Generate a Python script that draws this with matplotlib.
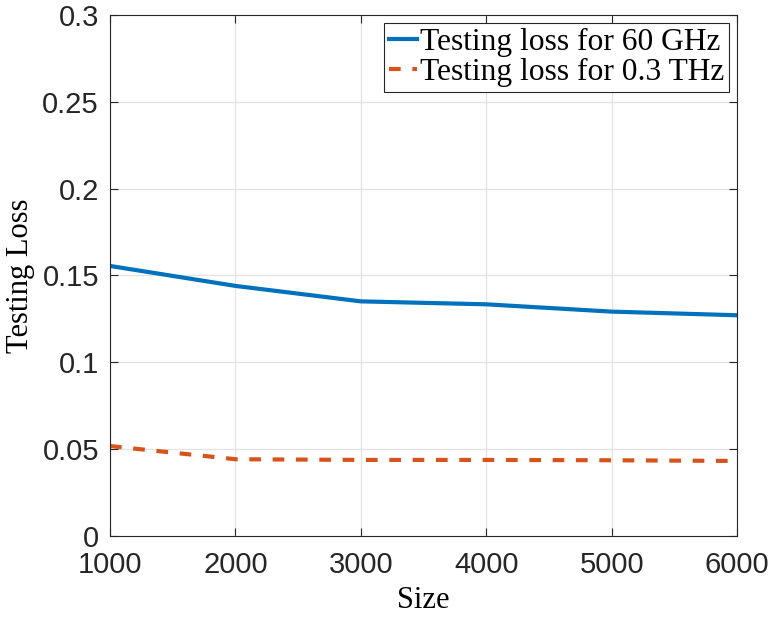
import matplotlib
matplotlib.use("Agg")
import matplotlib.pyplot as plt

sizes = [1000, 2000, 3000, 4000, 5000, 6000]
loss_60ghz = [0.1555, 0.144, 0.1351, 0.1334, 0.1292, 0.1271]
loss_03thz = [0.0518, 0.0442, 0.0438, 0.0438, 0.0436, 0.0432]
yticks = [0, 0.05, 0.1, 0.15, 0.2, 0.25, 0.3]
ytick_labels = ['0', '0.05', '0.1', '0.15', '0.2', '0.25', '0.3']

fig = plt.figure(figsize=(7.72, 6.17), dpi=100)
ax = fig.add_axes([0.1425, 0.1313, 0.8122, 0.8444])

ax.plot(sizes, loss_60ghz, color='#0072BD', lw=3.0, label='Testing loss for 60 GHz')
ax.plot(sizes, loss_03thz, color='#D95319', lw=3.0, dashes=(2.8, 2.8),
        label='Testing loss for 0.3 THz')

ax.set_xlim(1000, 6000)
ax.set_ylim(0, 0.3)
ax.set_xticks(sizes)
ax.set_yticks(yticks)
ax.set_yticklabels(ytick_labels)
ax.grid(True, color='#e3e3e3', lw=0.9)
ax.set_axisbelow(True)
ax.tick_params(direction='in', top=True, right=True, length=6, width=0.8,
               labelsize=21, colors='#262626')
ax.tick_params(axis='x', pad=11)
ax.tick_params(axis='y', pad=8)
for lbl in ax.get_xticklabels() + ax.get_yticklabels():
    lbl.set_family('Liberation Sans')
    lbl.set_color('#262626')
for sp in ax.spines.values():
    sp.set_color('#262626')
    sp.set_linewidth(0.8)

ax.set_xlabel('Size', family='Liberation Serif', fontsize=22, labelpad=5)
ax.set_ylabel('Testing Loss', family='Liberation Serif', fontsize=22, labelpad=5)

leg = ax.legend(loc='upper right', prop={'family': 'Liberation Serif', 'size': 22.7},
                fancybox=False, framealpha=1, edgecolor='#262626',
                handlelength=0.9, handletextpad=0.1, borderpad=0.15,
                labelspacing=0.05, borderaxespad=0.25)
leg.get_frame().set_linewidth(0.8)

fig.savefig('out.png', dpi=100)
